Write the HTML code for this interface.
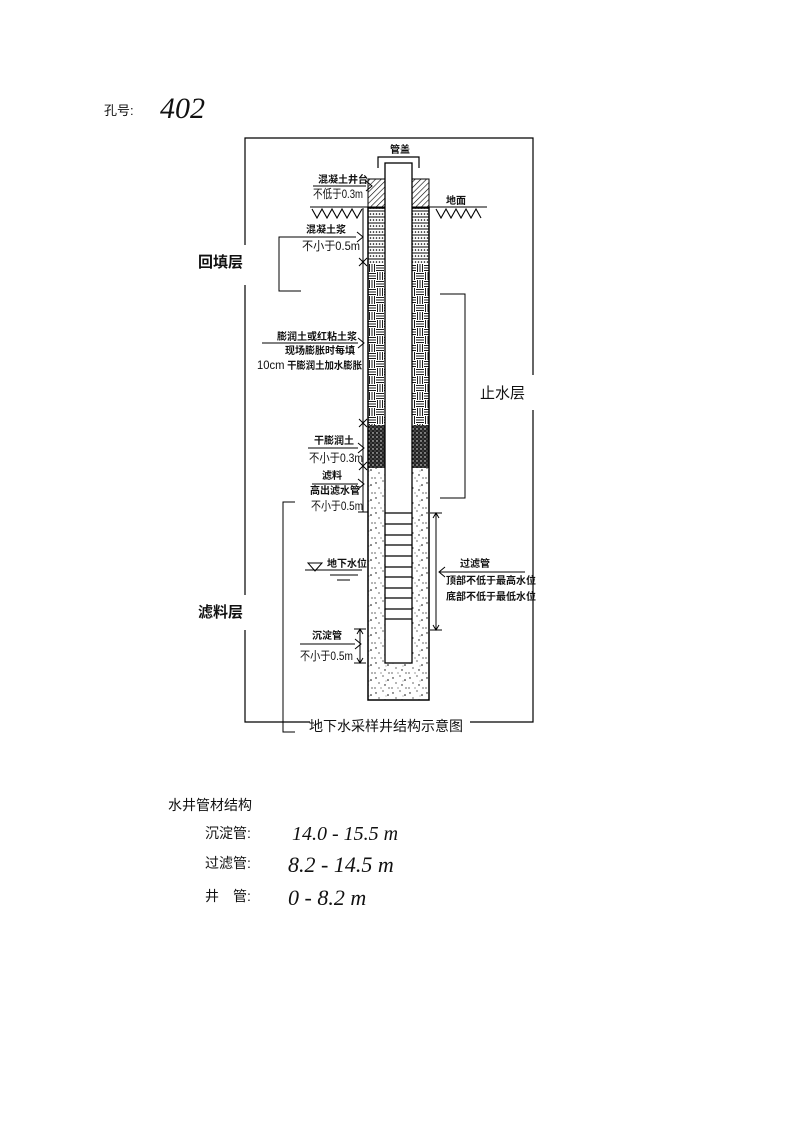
<!DOCTYPE html>
<html><head><meta charset="utf-8"><style>
html,body{margin:0;padding:0;background:#fff;}
svg{display:block;}
text{font-family:"Liberation Sans","Noto Sans CJK SC",sans-serif;fill:#111;}
.s{font-size:10px;font-weight:bold;}
.m{font-size:12px;text-anchor:end;}
.h{font-family:"Liberation Serif","Noto Sans CJK SC",serif;font-style:italic;}
</style></head><body>
<svg width="793" height="1122" viewBox="0 0 793 1122" xmlns="http://www.w3.org/2000/svg">
<defs>
<pattern id="hatch" width="4" height="4" patternUnits="userSpaceOnUse" patternTransform="rotate(45)">
<rect width="4" height="4" fill="#fff"/><line x1="0" y1="0" x2="0" y2="4" stroke="#000" stroke-width="1.2"/></pattern>
<pattern id="conc" width="6" height="6" patternUnits="userSpaceOnUse">
<rect width="6" height="6" fill="#fff"/><line x1="0" y1="1" x2="6" y2="1" stroke="#000" stroke-width="1"/>
<circle cx="1.5" cy="4" r="0.8" fill="#000"/><circle cx="4.5" cy="4" r="0.8" fill="#000"/></pattern>
<pattern id="weave" width="16" height="16" patternUnits="userSpaceOnUse">
<rect width="16" height="16" fill="#fff"/>
<g stroke="#000" stroke-width="0.9">
<line x1="0" y1="1.5" x2="8" y2="1.5"/><line x1="0" y1="4" x2="8" y2="4"/><line x1="0" y1="6.5" x2="8" y2="6.5"/>
<line x1="9.5" y1="0" x2="9.5" y2="8"/><line x1="12" y1="0" x2="12" y2="8"/><line x1="14.5" y1="0" x2="14.5" y2="8"/>
<line x1="1.5" y1="8" x2="1.5" y2="16"/><line x1="4" y1="8" x2="4" y2="16"/><line x1="6.5" y1="8" x2="6.5" y2="16"/>
<line x1="8" y1="9.5" x2="16" y2="9.5"/><line x1="8" y1="12" x2="16" y2="12"/><line x1="8" y1="14.5" x2="16" y2="14.5"/>
</g></pattern>
<pattern id="dark" width="4" height="4" patternUnits="userSpaceOnUse">
<rect width="4" height="4" fill="#222"/><circle cx="1" cy="1" r="0.7" fill="#fff"/><circle cx="3" cy="3" r="0.6" fill="#888"/></pattern>
<pattern id="grav" width="17" height="15" patternUnits="userSpaceOnUse">
<rect width="17" height="15" fill="#fff"/>
<g fill="#000"><circle cx="2" cy="3" r="0.7"/><circle cx="9" cy="1" r="0.6"/><circle cx="14" cy="5" r="0.8"/><circle cx="5" cy="8" r="0.6"/><circle cx="11" cy="10" r="0.7"/><circle cx="1" cy="13" r="0.6"/><circle cx="15" cy="13" r="0.6"/><circle cx="7" cy="13" r="0.5"/><circle cx="12" cy="6" r="0.4"/></g></pattern>
</defs>

<text x="104" y="115" style="font-size:13px">孔号:</text>
<text x="160" y="118" class="h" style="font-size:30px">402</text>

<g stroke="#000" stroke-width="1.2" fill="none">
<polyline points="245,245 245,138 533,138 533,375"/>
<polyline points="533,410 533,722 470,722"/>
<polyline points="310,722 245,722 245,630"/>
<line x1="245" y1="285" x2="245" y2="595"/>
</g>

<rect x="368" y="179" width="17" height="28" fill="url(#hatch)" stroke="#000"/>
<rect x="412" y="179" width="17" height="28" fill="url(#hatch)" stroke="#000"/>
<rect x="368" y="208" width="61" height="56" fill="url(#conc)"/>
<rect x="368" y="264" width="61" height="161" fill="url(#weave)"/>
<rect x="368" y="425" width="61" height="43" fill="url(#dark)"/>
<rect x="368" y="468" width="61" height="232" fill="url(#grav)"/>
<rect x="368" y="208" width="61" height="492" fill="none" stroke="#000" stroke-width="1.5"/>
<rect x="385" y="163" width="27" height="500" fill="#fff" stroke="#000" stroke-width="1.3"/>
<g stroke="#000" stroke-width="1.2">
<line x1="385" y1="513" x2="412" y2="513"/><line x1="385" y1="524" x2="412" y2="524"/><line x1="385" y1="535" x2="412" y2="535"/>
<line x1="385" y1="545" x2="412" y2="545"/><line x1="385" y1="556" x2="412" y2="556"/><line x1="385" y1="567" x2="412" y2="567"/>
<line x1="385" y1="577" x2="412" y2="577"/><line x1="385" y1="588" x2="412" y2="588"/><line x1="385" y1="598" x2="412" y2="598"/>
<line x1="385" y1="609" x2="412" y2="609"/><line x1="385" y1="619" x2="412" y2="619"/>
</g>
<polyline points="378,168 378,157 419,157 419,168" fill="none" stroke="#000" stroke-width="1.2"/>
<text x="390" y="153" class="s">管盖</text>

<g stroke="#000" stroke-width="1.1" fill="none">
<line x1="310" y1="207" x2="368" y2="207"/><line x1="429" y1="207" x2="487" y2="207"/>
<polyline points="312,209 317,218 322,209 327,218 332,209 337,218 342,209 347,218 352,209 357,218 362,209"/>
<polyline points="436,209 441,218 446,209 451,218 456,209 461,218 466,209 471,218 476,209 481,218"/>
</g>
<text x="446" y="204" class="s">地面</text>

<g stroke="#000" stroke-width="1" fill="none">
<line x1="363" y1="208" x2="363" y2="512"/>
<path d="M359,258 l8,8 M359,266 l8,-8 M359,419 l8,8 M359,427 l8,-8 M359,462 l8,8 M359,470 l8,-8"/>
<line x1="358" y1="512" x2="368" y2="512"/>
<line x1="313" y1="186" x2="366" y2="186"/><path d="M366,181 l6,5 l-6,5"/>
<line x1="280" y1="237" x2="356" y2="237"/><path d="M357,232 l6,5 l-6,5"/>
<line x1="262" y1="343" x2="358" y2="343"/><path d="M358,338 l6,5 l-6,5"/>
<line x1="308" y1="448" x2="358" y2="448"/><path d="M358,443 l6,5 l-6,5"/>
<line x1="312" y1="484" x2="358" y2="484"/><path d="M358,479 l6,5 l-6,5"/>
<line x1="300" y1="644" x2="355" y2="644"/><path d="M355,639 l6,5 l-6,5"/>
<line x1="360" y1="629" x2="360" y2="663"/>
<line x1="354" y1="629" x2="366" y2="629"/><line x1="354" y1="663" x2="366" y2="663"/>
<path d="M357,634 l3,-5 l3,5 M357,658 l3,5 l3,-5"/>
<line x1="436" y1="513" x2="436" y2="630"/>
<line x1="430" y1="513" x2="442" y2="513"/><line x1="430" y1="630" x2="442" y2="630"/>
<path d="M433,518 l3,-5 l3,5 M433,625 l3,5 l3,-5"/>
<line x1="440" y1="572" x2="525" y2="572"/><path d="M445,567 l-6,5 l6,5"/>
<path d="M308,563 l14,0 l-7,8 z"/>
<line x1="305" y1="570" x2="362" y2="570"/>
<line x1="330" y1="575" x2="358" y2="575"/><line x1="337" y1="580" x2="350" y2="580"/>
<polyline points="301,237 279,237 279,291 301,291"/>
<polyline points="440,294 465,294 465,498 440,498"/>
<polyline points="295,502 283,502 283,732 295,732"/>
</g>

<text x="318" y="183" class="s">混凝土井台</text>
<text x="363" y="198" class="m" textLength="50" lengthAdjust="spacingAndGlyphs">不低于0.3m</text>
<text x="306" y="233" class="s">混凝土浆</text>
<text x="360" y="250" class="m" textLength="58" lengthAdjust="spacingAndGlyphs">不小于0.5m</text>
<text x="277" y="340" class="s">膨润土或红粘土浆</text>
<text x="285" y="354" class="s">现场膨胀时每填</text>
<text x="362" y="369" class="m" textLength="105" lengthAdjust="spacingAndGlyphs">10cm<tspan class="s"> 干膨润土加水膨胀</tspan></text>
<text x="314" y="444" class="s">干膨润土</text>
<text x="363" y="462" class="m" textLength="54" lengthAdjust="spacingAndGlyphs">不小于0.3m</text>
<text x="322" y="479" class="s">滤料</text>
<text x="360" y="494" class="s" style="text-anchor:end">高出滤水管</text>
<text x="363" y="510" class="m" textLength="52" lengthAdjust="spacingAndGlyphs">不小于0.5m</text>
<text x="327" y="567" class="s">地下水位</text>
<text x="312" y="639" class="s">沉淀管</text>
<text x="353" y="660" class="m" textLength="53" lengthAdjust="spacingAndGlyphs">不小于0.5m</text>
<text x="460" y="567" class="s">过滤管</text>
<text x="446" y="584" class="s">顶部不低于最高水位</text>
<text x="446" y="600" class="s">底部不低于最低水位</text>
<text x="198" y="267" style="font-size:15px;font-weight:bold">回填层</text>
<text x="480" y="398" style="font-size:15px">止水层</text>
<text x="198" y="617" style="font-size:15px;font-weight:bold">滤料层</text>
<text x="309" y="731" style="font-size:14px">地下水采样井结构示意图</text>

<text x="168" y="810" style="font-size:14px">水井管材结构</text>
<text x="205" y="838" style="font-size:14px">沉淀管:</text>
<text x="205" y="868" style="font-size:14px">过滤管:</text>
<text x="205" y="901" style="font-size:14px">井　管:</text>
<text x="292" y="840" class="h" style="font-size:20px">14.0 - 15.5 m</text>
<text x="288" y="872" class="h" style="font-size:22px">8.2 - 14.5 m</text>
<text x="288" y="905" class="h" style="font-size:22px">0 - 8.2 m</text>
</svg>
</body></html>
